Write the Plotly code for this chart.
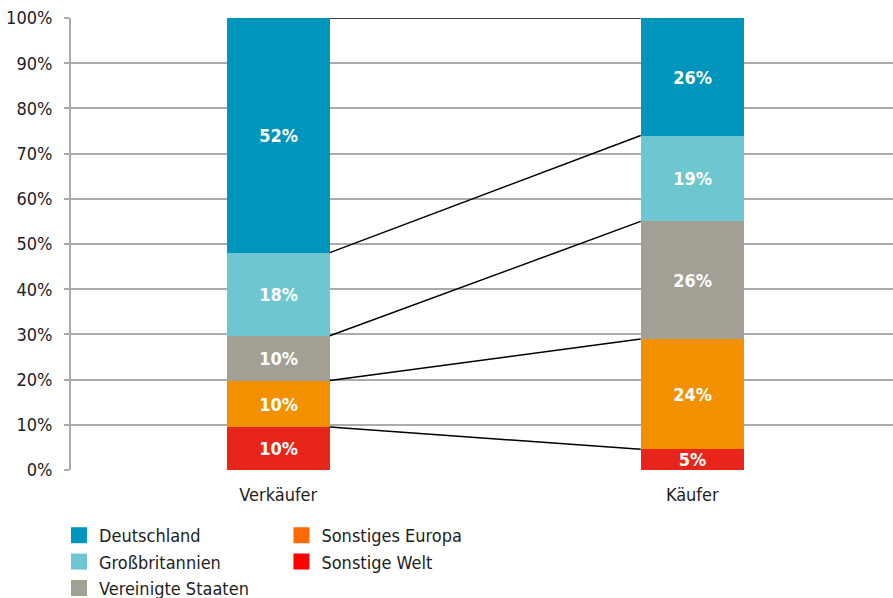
import plotly.graph_objects as go

categories = ["Verkäufer", "Käufer"]
regions = ["Sonstige Welt", "Sonstiges Europa", "Vereinigte Staaten", "Großbritannien", "Deutschland"]
verkaeufer = [9.5, 10.3, 9.9, 18.4, 51.9]
kaeufer = [4.6, 24.4, 26.0, 19.0, 26.0]
bar_colors = ["#E8251A", "#F39000", "#A39F95", "#6EC6D1", "#0095BC"]
legend_colors = ["#FF0000", "#FF6A00", "#A3A096", "#6EC6D2", "#0095BC"]
y_ticks = [0, 10, 20, 30, 40, 50, 60, 70, 80, 90, 100]

FONT = "DejaVu Sans Condensed"
bar_width = 0.249
xpos = list(range(len(categories)))


def font(size, color="#222222", weight="normal"):
    return dict(family=FONT, size=size, color=color, weight=weight)


fig = go.Figure()

# stacked bars, bottom to top
for i, name in enumerate(regions):
    vals = [verkaeufer[i], kaeufer[i]]
    fig.add_trace(go.Bar(
        x=xpos, y=vals, width=bar_width, name=name,
        marker=dict(color=bar_colors[i], line=dict(width=0)),
        text=["%d%%" % round(v) for v in vals],
        textposition="inside", insidetextanchor="middle", constraintext="none",
        textfont=font(18, "white", "bold"),
        showlegend=False, hoverinfo="skip",
    ))

# connector lines between cumulative tops
cum_v, cum_k = 0, 0
for i in range(len(regions)):
    cum_v += verkaeufer[i]
    cum_k += kaeufer[i]
    fig.add_trace(go.Scatter(
        x=[xpos[0] + bar_width / 2, xpos[1] - bar_width / 2],
        y=[cum_v, cum_k], mode="lines",
        line=dict(color="black", width=1.5),
        showlegend=False, hoverinfo="skip", cliponaxis=False,
    ))

# legend entries (two columns)
legend_cols = {"Deutschland": "legend", "Großbritannien": "legend", "Vereinigte Staaten": "legend",
               "Sonstiges Europa": "legend2", "Sonstige Welt": "legend2"}
for name in ["Deutschland", "Großbritannien", "Vereinigte Staaten", "Sonstiges Europa", "Sonstige Welt"]:
    i = regions.index(name)
    fig.add_trace(go.Scatter(
        x=[None], y=[None], name=name, mode="markers",
        marker=dict(color=legend_colors[i], symbol="square", size=16),
        legend=legend_cols[name], showlegend=True,
    ))

legend_style = dict(
    orientation="v", yanchor="top", y=-0.104, xanchor="left",
    font=font(18), bgcolor="rgba(0,0,0,0)",
    traceorder="normal", tracegroupgap=0, itemsizing="trace",
)

fig.update_layout(
    width=893, height=598,
    margin=dict(l=71, r=0, t=18, b=128, autoexpand=False),
    plot_bgcolor="white", paper_bgcolor="white",
    barmode="stack", bargap=0,
    font=font(18),
    legend=dict(legend_style, x=-0.0146),
    legend2=dict(legend_style, x=0.256),
    showlegend=True,
)
fig.update_xaxes(
    range=[-0.5007, 1.4848], tickvals=xpos, ticktext=categories,
    showgrid=False, zeroline=False, showline=False, ticks="",
    tickfont=font(18), fixedrange=True, ticklabelstandoff=12,
)
fig.update_yaxes(
    range=[0, 100], tickvals=y_ticks, ticktext=["%d%%" % t for t in y_ticks],
    showgrid=True, gridcolor="#ABABAB", gridwidth=2,
    showline=True, linecolor="#ABABAB", linewidth=2,
    ticks="outside", ticklen=5, tickcolor="#ABABAB", tickwidth=2,
    zeroline=False, ticklabelstandoff=8, ticklabeloverflow="allow",
    tickfont=font(18),
)

# drop the default page margin so the figure fills the window
fig.write_html("out.html", config={"displayModeBar": False},
               post_script="document.body.style.margin='0';")
